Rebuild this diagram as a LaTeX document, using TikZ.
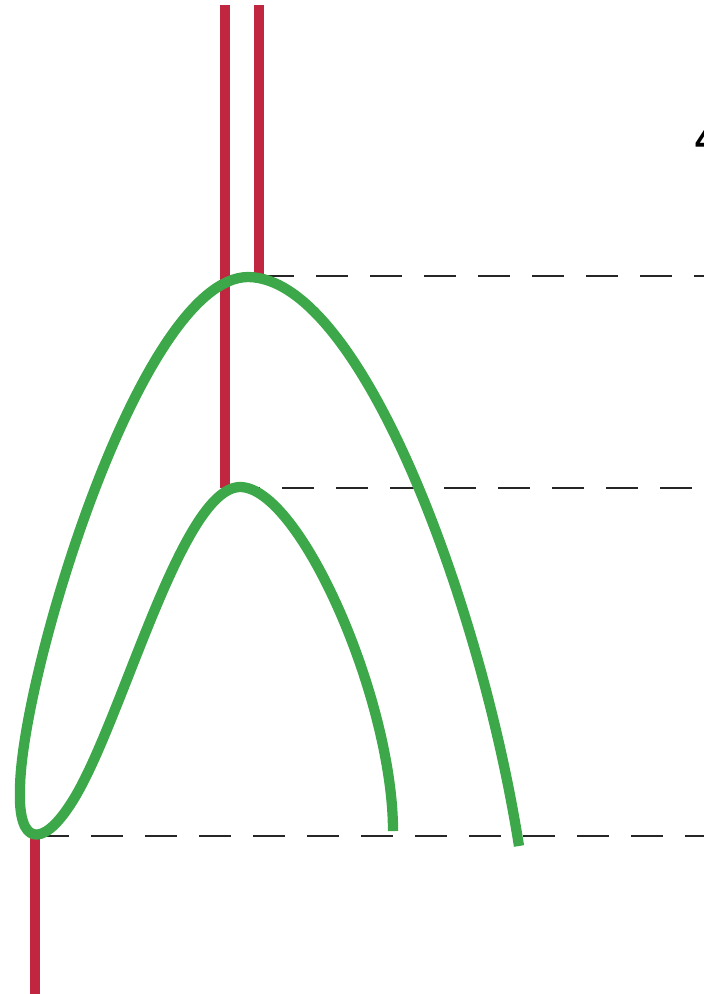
\documentclass[tikz,border=0pt]{standalone}
\usepackage{fontspec}
\setsansfont{Liberation Sans}
\usetikzlibrary{calc}

\definecolor{strandred}{RGB}{193,38,64}
\definecolor{curvegreen}{RGB}{61,168,74}

\begin{document}
\begin{tikzpicture}[
  x=0.025cm, y=-0.025cm,
  strand/.style={draw=strandred, line width=7.3pt},
  curve/.style={draw=curvegreen, line width=7.3pt, line join=round},
  level/.style={draw=black!85, line width=2.1pt, dash pattern=on 0.8cm off 0.55cm}
]
  \useasboundingbox (0,0) rectangle (704,994);

  % levels
  \draw[level] (262,276) -- (704,276);
  \draw[level] (228,488) -- (704,488);
  \draw[level] (37,836) -- (704,836);

  % strands
  \draw[strand] (225,5) -- (225,488);
  \draw[strand] (259,5) -- (259,276);
  \draw[strand] (35,836) -- (35,994);

  % the folded curve
  \coordinate (outerEnd) at (519,846);
  \coordinate (outerTop) at (248,277);
  \coordinate (loopL) at (20,790);
  \coordinate (loopR) at (70,805);
  \coordinate (innerTop) at (240,487);
  \coordinate (innerEnd) at (393,831);
  \draw[curve] (outerEnd)
    .. controls (480,600) and (360,278) .. (outerTop)
    .. controls (140,278) and (20,680) .. (loopL)
    .. controls (18,845) and (42,848) .. (loopR)
    .. controls (120,730) and (180,488) .. (innerTop)
    .. controls (300,487) and (393,700) .. (innerEnd);

  \node[font=\sffamily\bfseries\fontsize{27}{27}\selectfont, anchor=west, inner sep=0pt] (lbl) at (695,139) {4};
\end{tikzpicture}
\end{document}
